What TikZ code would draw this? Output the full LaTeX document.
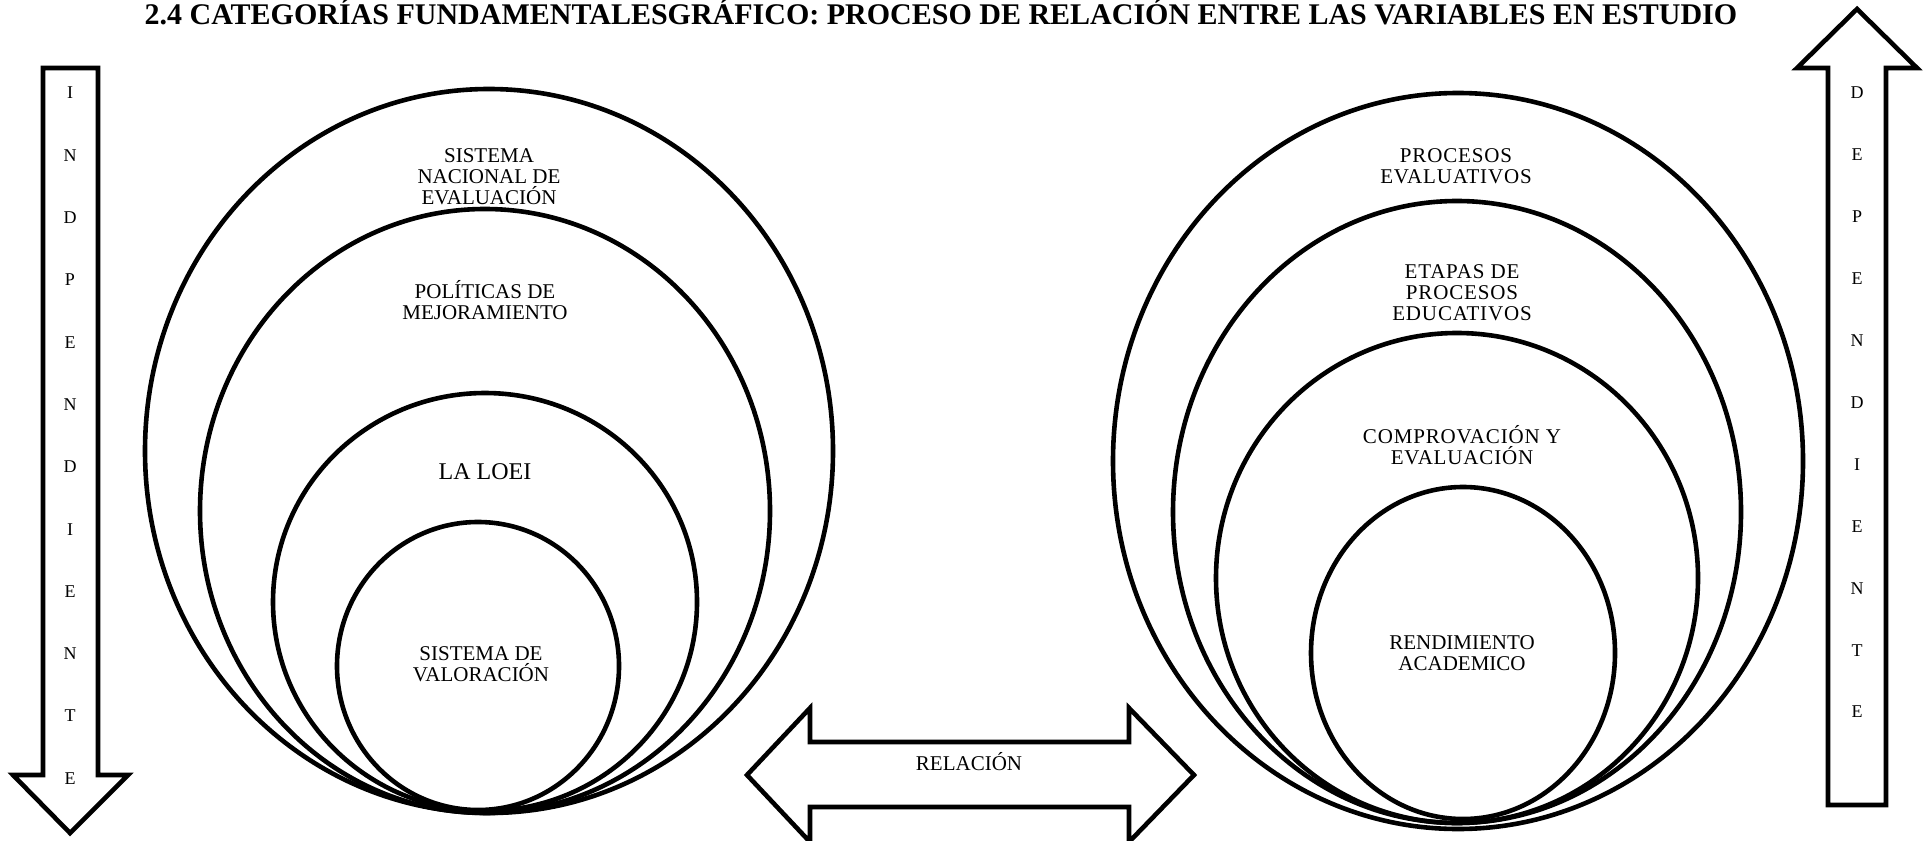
\documentclass[tikz,border=0pt]{standalone}
\usepackage{fontspec}
\setmainfont{Liberation Serif}
\begin{document}
\begin{tikzpicture}[x=0.5pt,y=-0.5pt,
  ring/.style={draw=black,line width=2.3pt},
  bigarrow/.style={draw=black,line width=2.3pt,line join=miter,fill=white},
  lbl/.style={align=center,font=\fontsize{10.5}{10.5}\selectfont,inner sep=0pt},
  spaced/.style={align=center,font=\fontsize{10.5}{10.5}\selectfont\addfontfeature{LetterSpace=4},inner sep=0pt},
  letter/.style={font=\fontsize{9}{9}\selectfont,inner sep=0pt}]
\useasboundingbox (0,0) rectangle (1926,840);
% title
\node[font=\bfseries\fontsize{15}{16}\selectfont,inner sep=0pt] (title) at (941,12)
  {2.4 CATEGORÍAS FUNDAMENTALESGRÁFICO: PROCESO DE RELACIÓN ENTRE LAS VARIABLES EN ESTUDIO};
% left group
\draw[ring] (489,451) ellipse [x radius=172pt, y radius=181pt];
\draw[ring] (485,511) ellipse [x radius=142.5pt, y radius=151pt];
\draw[ring] (485,602) ellipse [x radius=106pt, y radius=104.5pt];
\draw[ring] (478,666) ellipse [x radius=70.5pt, y radius=72pt];
\node[lbl] (l1) at (489,177) {SISTEMA\\NACIONAL DE\\EVALUACIÓN};
\node[lbl] (l2) at (485,300) {POLÍTICAS DE\\MEJORAMIENTO};
\node[lbl,font=\fontsize{12}{12}\selectfont] (l3) at (485,472) {LA LOEI};
\node[lbl] (l4) at (481,664) {SISTEMA DE\\VALORACIÓN};
% right group
\draw[ring] (1458,461) ellipse [x radius=172.5pt, y radius=184pt];
\draw[ring] (1457,512) ellipse [x radius=142pt, y radius=155.5pt];
\draw[ring] (1457,578) ellipse [x radius=120.5pt, y radius=122.5pt];
\draw[ring] (1463,653) ellipse [x radius=76pt, y radius=83pt];
\node[spaced] (r1) at (1456,166) {PROCESOS\\EVALUATIVOS};
\node[spaced] (r2) at (1462,293) {ETAPAS DE\\PROCESOS\\EDUCATIVOS};
\node[spaced] (r3) at (1462,445) {COMPROVACIÓN Y\\EVALUACIÓN};
\node[lbl] (r4) at (1462,653) {RENDIMIENTO\\ACADEMICO};
% left arrow (down)
\draw[bigarrow] (43,68) -- (98,68) -- (98,775) -- (128,775) -- (70,833) -- (13,775) -- (43,775) -- cycle;
\foreach \t [count=\i from 0] in {I,N,D,P,E,N,D,I,E,N,T,E}
  \node[letter] (il\i) at (70,{93+62.3*\i}) {\t};
% right arrow (up)
\draw[bigarrow] (1828,805) -- (1886,805) -- (1886,68) -- (1917,68) -- (1857,9) -- (1797,68) -- (1828,68) -- cycle;
\foreach \t [count=\i from 0] in {D,E,P,E,N,D,I,E,N,T,E}
  \node[letter] (dl\i) at (1857,{93+61.9*\i}) {\t};
% double arrow
\draw[bigarrow] (747,775) -- (810,708) -- (810,742) -- (1129,742) -- (1129,708) -- (1194,775)
  -- (1129,842) -- (1129,807) -- (810,807) -- (810,842) -- cycle;
\node[lbl] (rel) at (969,762) {RELACIÓN};
\end{tikzpicture}
\end{document}
